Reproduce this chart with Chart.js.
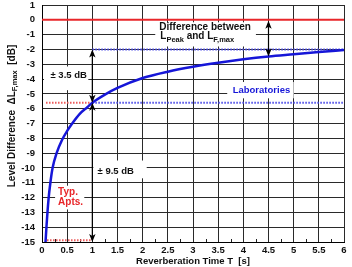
<!DOCTYPE html>
<html><head><meta charset="utf-8">
<script src="https://cdn.jsdelivr.net/npm/chart.js@4/dist/chart.umd.min.js"></script>
<style>html,body{margin:0;padding:0;background:#fff;}#wrap{width:352px;height:267px;position:relative;}</style>
</head><body><div id="wrap"><canvas id="c"></canvas></div>
<script>
// ---- data ----
const curveT  = [0.07, 0.09, 0.13, 0.17, 0.21, 0.29, 0.4, 0.5, 0.6, 0.75, 0.9, 1.0, 1.25, 1.5, 2, 2.5, 3, 3.5, 4, 4.5, 5, 5.5, 6];
const curveDL = [-15, -13.9, -12.1, -10.9, -10, -9, -8.1, -7.5, -7.0, -6.35, -5.9, -5.6, -5.05, -4.6, -3.93, -3.5, -3.17, -2.9, -2.67, -2.48, -2.33, -2.18, -2.04];
const peakRef = 0;          // L_Peak reference
const labLimits = [-2, -5.6];   // laboratories range
const aptLimits = [-5.6, -14.88]; // typical apartments range
const xTicks = [0,0.5,1,1.5,2,2.5,3,3.5,4,4.5,5,5.5,6];
const yMin = -15, yMax = 1;
const markT = 1.0;      // T where ranges are marked
const diffT = 4.5;      // T where difference arrow is drawn

const FONT = '"Liberation Sans", Arial, sans-serif';
const BLUE = '#1616d8', RED = '#e8262a';

function pts(xs, ys){ return xs.map((x,i)=>({x, y: ys[i]})); }

function arrowHead(ctx, x, y, dir){ // dir -1 up, +1 down
  ctx.beginPath();
  ctx.moveTo(x, y);
  ctx.lineTo(x-3.2, y - dir*8);
  ctx.lineTo(x, y - dir*6);
  ctx.lineTo(x+3.2, y - dir*8);
  ctx.closePath(); ctx.fill();
}
function dblArrow(ctx, x, y1, y2){
  ctx.beginPath(); ctx.moveTo(x, y1+2); ctx.lineTo(x, y2-2); ctx.stroke();
  arrowHead(ctx, x, y1, -1); arrowHead(ctx, x, y2, 1);
}

const annot = {
  id: 'annot',
  beforeDatasetsDraw(chart){
    const {ctx, scales:{x, y}} = chart;
    ctx.save(); ctx.fillStyle = '#fff';
    const boxes = [[0.04,-3.15,0.92,-4.75],[1.02,-9.5,2.08,-10.7],[2.25,-0.17,4.25,-1.8],[3.68,-4.2,5.0,-5.3],[0.26,-11.2,0.84,-12.8]];
    boxes.forEach(b=>{
      const x1=x.getPixelForValue(b[0]), y1=y.getPixelForValue(b[1]);
      const x2=x.getPixelForValue(b[2]), y2=y.getPixelForValue(b[3]);
      ctx.fillRect(x1, y1, x2-x1, y2-y1);
    });
    // minor ticks on bottom axis
    ctx.strokeStyle = '#222'; ctx.lineWidth = 1;
    const yb = y.getPixelForValue(yMin);
    for (let t = 0.25; t < 6; t += 0.5){
      const px = Math.round(x.getPixelForValue(t))+0.5;
      ctx.beginPath(); ctx.moveTo(px, yb); ctx.lineTo(px, yb-3); ctx.stroke();
    }
    ctx.restore();
  },
  afterDatasetsDraw(chart){
    const {ctx, scales:{x, y}} = chart;
    ctx.save();
    ctx.fillStyle = '#000'; ctx.strokeStyle = '#000'; ctx.lineWidth = 1.2;
    const ax = x.getPixelForValue(markT);
    dblArrow(ctx, ax, y.getPixelForValue(labLimits[0]), y.getPixelForValue(labLimits[1]));
    dblArrow(ctx, ax, y.getPixelForValue(aptLimits[0]), y.getPixelForValue(yMin));
    const dx = x.getPixelForValue(diffT);
    const cv = curveDL[curveT.indexOf(diffT)];
    dblArrow(ctx, dx, y.getPixelForValue(peakRef)+1, y.getPixelForValue(cv));

    ctx.textBaseline = 'middle';
    ctx.font = 'bold 9.5px ' + FONT;
    ctx.textAlign = 'center'; ctx.fillStyle = '#111';
    ctx.fillText('\u00b1 3.5 dB', x.getPixelForValue(0.53), y.getPixelForValue(-3.77));
    ctx.fillText('\u00b1 9.5 dB', x.getPixelForValue(1.465), y.getPixelForValue(-10.2));
    ctx.font = 'bold 10px ' + FONT;
    ctx.fillText('Difference between', x.getPixelForValue(3.24), y.getPixelForValue(-0.53));
    // second line with subscripts
    let px = x.getPixelForValue(2.35); const py = y.getPixelForValue(-1.13);
    ctx.textAlign = 'left';
    const seg = [['L',0],['Peak',1],[' and L',0],['F,max',1]];
    seg.forEach(s=>{
      ctx.font = (s[1] ? 'bold 7.5px ' : 'bold 10px ') + FONT;
      ctx.fillText(s[0], px, py + (s[1]?3:0));
      px += ctx.measureText(s[0]).width;
    });
    ctx.font = 'bold 9.5px ' + FONT;
    ctx.textAlign = 'center'; ctx.fillStyle = BLUE;
    ctx.fillText('Laboratories', x.getPixelForValue(4.36), y.getPixelForValue(-4.76));
    ctx.textAlign = 'left'; ctx.fillStyle = RED; ctx.font = 'bold 10px ' + FONT;
    ctx.fillText('Typ.', x.getPixelForValue(0.32), y.getPixelForValue(-11.63));
    ctx.fillText('Apts.', x.getPixelForValue(0.32), y.getPixelForValue(-12.3));

    // y axis title (rotated, with subscript)
    ctx.fillStyle = '#111';
    const parts = [['Level Difference  \u0394L',0],['F,max',1],['  [dB]',0]];
    let total = 0;
    parts.forEach(p=>{ ctx.font=(p[1]?'bold 7.5px ':'bold 10px ')+FONT; total += ctx.measureText(p[0]).width; });
    ctx.translate(12, 116); ctx.rotate(-Math.PI/2);
    let tx = -total/2;
    parts.forEach(p=>{ ctx.font=(p[1]?'bold 7.5px ':'bold 10px ')+FONT; ctx.fillText(p[0], tx, p[1]?3:0); tx += ctx.measureText(p[0]).width; });
    ctx.restore();
  }
};

const dotted = (color) => ({borderColor: color, borderWidth: 2, borderDash: [1.5,1.5], pointRadius: 0, fill: false});

new Chart(document.getElementById('c'), {
  type: 'line',
  data: { datasets: [
    {data: pts(curveT, curveDL), borderColor: BLUE, borderWidth: 2.5, pointRadius: 0, cubicInterpolationMode: 'monotone', fill:false},
    {data: pts([0,6],[peakRef,peakRef]), borderColor: RED, borderWidth: 2, pointRadius: 0},
    Object.assign({data: pts([markT,6],[labLimits[0],labLimits[0]])}, dotted('#4a4ae6')),
    Object.assign({data: pts([markT,6],[labLimits[1],labLimits[1]])}, dotted('#4a4ae6')),
    Object.assign({data: pts([0.08,markT],[aptLimits[0],aptLimits[0]])}, dotted('#ec5a5a')),
    Object.assign({data: pts([0.1,markT],[aptLimits[1],aptLimits[1]])}, dotted('#ec5a5a'))
  ]},
  options: {
    responsive: true, maintainAspectRatio: false, animation: false,
    layout: {padding: {top: 5, right: 8, left: 0, bottom: 0}},
    plugins: {legend: {display: false}, tooltip: {enabled: false}},
    scales: {
      x: {type: 'linear', min: 0, max: 6,
          afterBuildTicks: s => { s.ticks = xTicks.map(v=>({value:v})); },
          afterFit: s => { s.height = 25; },
          grid: {color: '#2a2a2a', lineWidth: 1, drawTicks: false},
          border: {color: '#000', width: 1},
          ticks: {padding: 3, color: '#111', font: {family: FONT, size: 9.5, weight: 'bold'}, maxRotation: 0, autoSkip: false,
                  callback: v => String(v)},
          title: {display: true, text: 'Reverberation Time T  [s]', color:'#111', padding: {top: 0, bottom: 0}, font: {family: FONT, size: 9.5, weight: 'bold'}}
      },
      y: {type: 'linear', min: yMin, max: yMax,
          ticks: {stepSize: 1, padding: 7, color: '#111', font: {family: FONT, size: 9.5, weight: 'bold'}, autoSkip: false},
          afterFit: s => { s.width = 42; s.paddingTop = 0; s.paddingBottom = 0; },
          grid: {color: '#2a2a2a', lineWidth: 1, drawTicks: false},
          border: {color: '#000', width: 1}
      }
    }
  },
  plugins: [annot]
});
</script></body></html>
